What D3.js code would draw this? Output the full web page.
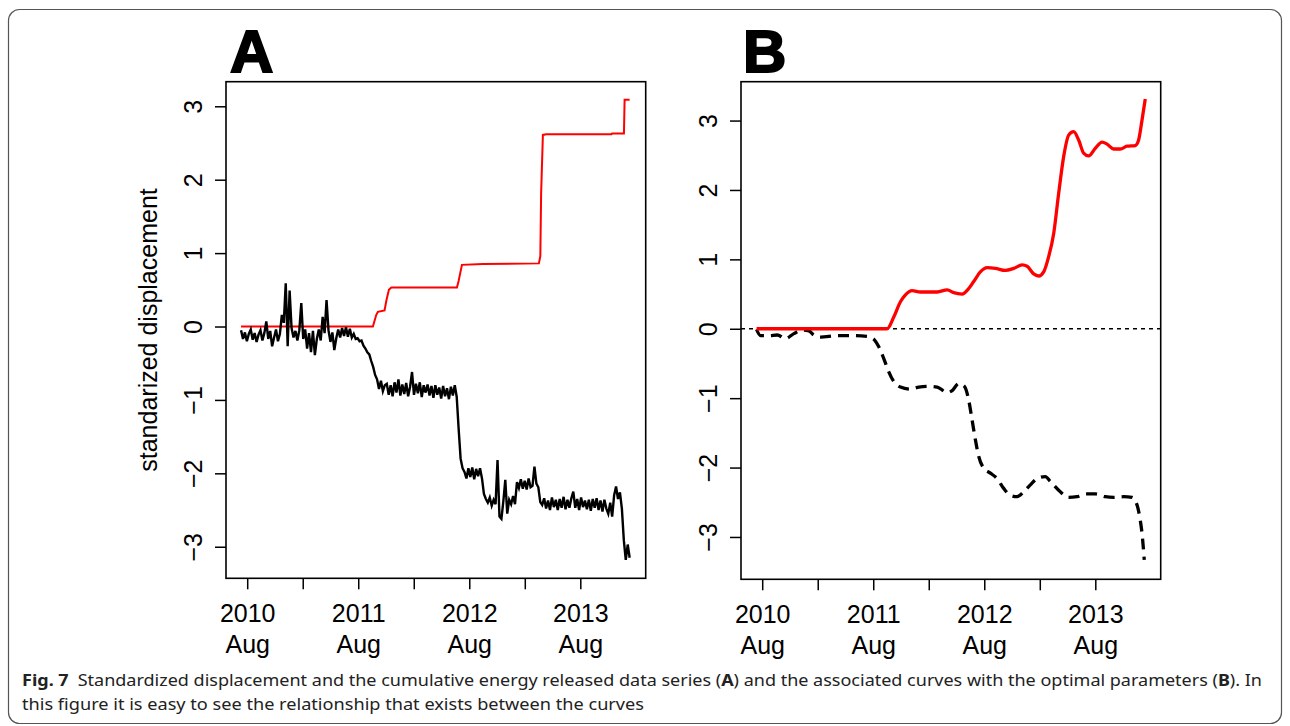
<!DOCTYPE html>
<html>
<head>
<meta charset="utf-8">
<script src="https://cdn.jsdelivr.net/npm/d3@7"></script>
<style>
  body { margin: 0; background: #fff; }
  svg { display: block; }
</style>
</head>
<body>
<div id="wrapper"></div>
<script>
// ---- data (time in decimal years) ----
const xTicks = [2010.583, 2011.083, 2011.583, 2012.083, 2012.583, 2013.083, 2013.583];
const xTickYears = ["2010", "", "2011", "", "2012", "", "2013"];
const xTickMonths = ["Aug", "", "Aug", "", "Aug", "", "Aug"];
const yTicks = [-3, -2, -1, 0, 1, 2, 3];

// panel A: cumulative energy released (red)
const energyA = [
  [2010.5275, 0], [2011.715, 0], [2011.7455, 0.16], [2011.760, 0.20], [2011.820, 0.22],
  [2011.836, 0.35], [2011.859, 0.50], [2011.881, 0.53], [2012.472, 0.53], [2012.487, 0.62],
  [2012.517, 0.84], [2012.706, 0.85], [2013.210, 0.86], [2013.223, 0.96], [2013.230, 1.80],
  [2013.246, 2.61], [2013.277, 2.62], [2013.863, 2.62], [2013.870, 2.63], [2013.976, 2.63],
  [2013.982, 3.09], [2014.027, 3.09]
];

// panel A: standardized displacement (black), regular observations
const dispStart = 2010.5275;
const dispStep = 0.0175;
const dispA = [
  -0.05,-0.17,-0.08,-0.20,-0.10,-0.04,-0.18,-0.09,-0.21,-0.11,
  -0.05,-0.19,-0.09,0.07,-0.17,-0.06,-0.27,-0.15,-0.04,-0.20,
  -0.10,0.16,0.05,0.59,-0.27,0.49,-0.02,-0.15,-0.06,-0.19,
  -0.05,0.32,-0.17,-0.04,-0.30,-0.09,-0.35,-0.06,-0.39,-0.17,
  -0.04,-0.19,0.13,-0.09,0.36,-0.05,-0.21,-0.08,-0.32,-0.16,
  -0.04,-0.15,-0.02,-0.13,-0.01,-0.14,-0.03,-0.15,-0.10,-0.17,
  -0.16,-0.20,-0.19,-0.26,-0.30,-0.35,-0.38,-0.47,-0.55,-0.66,
  -0.72,-0.85,-0.74,-0.88,-0.80,-0.78,-0.93,-0.80,-0.95,-0.76,
  -0.90,-0.72,-0.94,-0.79,-0.92,-0.77,-0.95,-0.82,-0.62,-0.93,
  -0.78,-0.91,-0.76,-0.96,-0.80,-0.90,-0.79,-0.94,-0.81,-0.97,
  -0.80,-0.93,-0.83,-0.98,-0.81,-0.95,-0.84,-0.99,-0.82,-0.94,
  -0.80,-0.96,-1.40,-1.80,-1.93,-1.98,-2.07,-1.93,-2.05,-1.92,
  -2.08,-1.94,-2.04,-1.93,-2.07,-2.28,-2.35,-2.40,-2.33,-2.44,
  -2.36,-2.42,-1.82,-2.59,-2.62,-2.38,-2.09,-2.55,-2.36,-2.42,
  -2.31,-2.42,-2.12,-2.20,-2.08,-2.21,-2.10,-2.22,-2.07,-2.19,
  -2.17,-1.91,-2.14,-2.19,-2.39,-2.43,-2.34,-2.48,-2.37,-2.50,
  -2.33,-2.46,-2.36,-2.50,-2.35,-2.47,-2.32,-2.49,-2.36,-2.47,
  -2.34,-2.25,-2.47,-2.35,-2.50,-2.33,-2.46,-2.37,-2.49,-2.36,
  -2.51,-2.35,-2.47,-2.34,-2.50,-2.37,-2.52,-2.36,-2.48,-2.55,
  -2.40,-2.59,-2.30,-2.18,-2.35,-2.26,-2.48,-2.91,-3.18,-2.97,
  -3.15
];

// panel B: fitted curves
const curveEnergyB = [
  [2010.532, 0], [2011.708, 0], [2011.768, 0.17], [2011.828, 0.39], [2011.873, 0.49],
  [2011.933, 0.55], [2012.008, 0.53], [2012.159, 0.53], [2012.249, 0.56], [2012.308, 0.52],
  [2012.384, 0.50], [2012.443, 0.58], [2012.488, 0.68], [2012.548, 0.82], [2012.609, 0.88],
  [2012.683, 0.87], [2012.773, 0.84], [2012.848, 0.87], [2012.924, 0.92], [2012.969, 0.90],
  [2013.028, 0.79], [2013.073, 0.76], [2013.118, 0.82], [2013.163, 1.04], [2013.208, 1.37],
  [2013.253, 1.95], [2013.298, 2.48], [2013.343, 2.79], [2013.388, 2.84], [2013.433, 2.72],
  [2013.478, 2.53], [2013.523, 2.49], [2013.583, 2.60], [2013.644, 2.69], [2013.689, 2.66],
  [2013.748, 2.59], [2013.808, 2.59], [2013.869, 2.63], [2013.943, 2.64], [2013.973, 2.72],
  [2014.004, 3.01], [2014.033, 3.31]
];

const curveDispB = [
  [2010.532, -0.01], [2010.568, -0.10], [2010.643, -0.10], [2010.718, -0.09], [2010.793, -0.14],
  [2010.868, -0.07], [2010.943, -0.02], [2011.003, -0.03], [2011.048, -0.09], [2011.108, -0.12],
  [2011.258, -0.10], [2011.408, -0.10], [2011.528, -0.11], [2011.588, -0.15], [2011.633, -0.26],
  [2011.678, -0.43], [2011.723, -0.62], [2011.768, -0.76], [2011.828, -0.84], [2011.918, -0.87],
  [2011.993, -0.84], [2012.068, -0.83], [2012.159, -0.84], [2012.249, -0.92], [2012.294, -0.89],
  [2012.353, -0.79], [2012.404, -0.83], [2012.443, -1.03], [2012.474, -1.32], [2012.503, -1.60],
  [2012.533, -1.84], [2012.578, -2.01], [2012.638, -2.08], [2012.699, -2.16], [2012.758, -2.30],
  [2012.818, -2.40], [2012.879, -2.42], [2012.938, -2.35], [2012.998, -2.25], [2013.059, -2.16],
  [2013.133, -2.13], [2013.178, -2.20], [2013.268, -2.35], [2013.343, -2.43], [2013.419, -2.42],
  [2013.493, -2.38], [2013.583, -2.38], [2013.673, -2.42], [2013.748, -2.43], [2013.838, -2.42],
  [2013.914, -2.43], [2013.959, -2.54], [2013.988, -2.76], [2014.004, -2.95], [2014.024, -3.33]
];

// ---- layout ----
const width = 1290, height = 726;
const axisFont = "Liberation Sans, Arial, Helvetica, sans-serif";

const svg = d3.select("#wrapper")
  .append("svg")
  .attr("width", width)
  .attr("height", height);

svg.append("rect")
  .attr("width", width).attr("height", height)
  .attr("fill", "#fff");

// figure frame
svg.append("rect")
  .attr("x", 8.5).attr("y", 9.5)
  .attr("width", 1273).attr("height", 714)
  .attr("rx", 11)
  .attr("fill", "none")
  .attr("stroke", "#555")
  .attr("stroke-width", 1.2);

const panels = [
  { letter: "A", left: 226, top: 81.7, right: 645.7, bottom: 578.3, yDomain: [-3.43, 3.335], title: true },
  { letter: "B", left: 741, top: 81.7, right: 1160.7, bottom: 579.3, yDomain: [-3.61, 3.56], title: false }
];

const xDomain = [2010.392, 2014.172];

panels.forEach((p) => {
  p.x = d3.scaleLinear().domain(xDomain).range([p.left, p.right]);
  p.y = d3.scaleLinear().domain(p.yDomain).range([p.bottom, p.top]);

  const g = svg.append("g");

  // bottom axis
  const xAxis = g.append("g")
    .attr("transform", `translate(0,${p.bottom})`)
    .call(d3.axisBottom(p.x).tickValues(xTicks).tickSize(11).tickFormat(""));
  xAxis.select(".domain").remove();
  xAxis.selectAll(".tick line").attr("stroke", "#000").attr("stroke-width", 1.5);
  xAxis.selectAll(".tick text").remove();
  xAxis.selectAll(".tick").each(function (d, i) {
    const t = d3.select(this);
    if (!xTickYears[i]) return;
    t.append("text")
      .attr("y", 44).attr("text-anchor", "middle")
      .attr("font-family", axisFont).attr("font-size", 25).attr("fill", "#000")
      .text(xTickYears[i]);
    t.append("text")
      .attr("y", 75).attr("text-anchor", "middle")
      .attr("font-family", axisFont).attr("font-size", 25).attr("fill", "#000")
      .text(xTickMonths[i]);
  });

  // left axis, labels parallel to axis
  const yAxis = g.append("g")
    .attr("transform", `translate(${p.left},0)`)
    .call(d3.axisLeft(p.y).tickValues(yTicks).tickSize(11)
      .tickFormat((d) => (d < 0 ? "\u2212" + Math.abs(d) : String(d))));
  yAxis.select(".domain").remove();
  yAxis.selectAll(".tick line").attr("stroke", "#000").attr("stroke-width", 1.5);
  yAxis.selectAll(".tick text")
    .attr("transform", "rotate(-90)")
    .attr("x", 0).attr("y", -24).attr("dy", null)
    .attr("text-anchor", "middle")
    .attr("font-family", axisFont).attr("font-size", 25).attr("fill", "#000");

  // panel letter
  svg.append("text")
    .attr("x", p.letter === "A" ? 230 : 743).attr("y", 72)
    .attr("font-family", axisFont).attr("font-weight", "bold").attr("font-size", 60)
    .attr("fill", "#000").attr("stroke", "#000").attr("stroke-width", 2)
    .text(p.letter);

  if (p.title) {
    svg.append("text")
      .attr("transform", `translate(157,${(p.top + p.bottom) / 2}) rotate(-90)`)
      .attr("text-anchor", "middle")
      .attr("font-family", axisFont).attr("font-size", 25).attr("fill", "#000")
      .text("standarized displacement");
  }
});

const [pA, pB] = panels;

// ---- panel A lines ----
const lineA = d3.line().x((d) => pA.x(d[0])).y((d) => pA.y(d[1]));

svg.append("path")
  .attr("d", lineA(energyA))
  .attr("fill", "none").attr("stroke", "#ff0000").attr("stroke-width", 2);

svg.append("path")
  .attr("d", lineA(dispA.map((v, i) => [dispStart + i * dispStep, v])))
  .attr("fill", "none").attr("stroke", "#000").attr("stroke-width", 2.4)
  .attr("stroke-linejoin", "miter");

// ---- panel B lines ----
const lineB = d3.line().x((d) => pB.x(d[0])).y((d) => pB.y(d[1])).curve(d3.curveMonotoneX);

svg.append("line")
  .attr("x1", pB.left).attr("x2", pB.right)
  .attr("y1", pB.y(0)).attr("y2", pB.y(0))
  .attr("stroke", "#000").attr("stroke-width", 1.3).attr("stroke-dasharray", "4,4");

svg.append("path")
  .attr("d", lineB(curveDispB))
  .attr("fill", "none").attr("stroke", "#000").attr("stroke-width", 3.3)
  .attr("stroke-dasharray", "11,7");

svg.append("path")
  .attr("d", lineB(curveEnergyB))
  .attr("fill", "none").attr("stroke", "#ff0000").attr("stroke-width", 3.3);

// plot boxes on top
panels.forEach((p) => {
  svg.append("rect")
    .attr("x", p.left).attr("y", p.top)
    .attr("width", p.right - p.left).attr("height", p.bottom - p.top)
    .attr("fill", "none").attr("stroke", "#000").attr("stroke-width", 1.6);
});

// ---- caption ----
const capFont = "Noto Sans, Open Sans, sans-serif";
const cap1 = svg.append("text")
  .attr("x", 22).attr("y", 686)
  .attr("font-family", capFont).attr("font-size", 16).attr("fill", "#222")
  .attr("textLength", 1240).attr("lengthAdjust", "spacingAndGlyphs");
cap1.append("tspan").attr("font-weight", "bold").text("Fig. 7");
cap1.append("tspan").attr("dx", 8).text("Standardized displacement and the cumulative energy released data series (");
cap1.append("tspan").attr("font-weight", "bold").text("A");
cap1.append("tspan").text(") and the associated curves with the optimal parameters (");
cap1.append("tspan").attr("font-weight", "bold").text("B");
cap1.append("tspan").text("). In");

svg.append("text")
  .attr("x", 22).attr("y", 710)
  .attr("font-family", capFont).attr("font-size", 16).attr("fill", "#222")
  .attr("textLength", 622).attr("lengthAdjust", "spacingAndGlyphs")
  .text("this figure it is easy to see the relationship that exists between the curves");
</script>
</body>
</html>
